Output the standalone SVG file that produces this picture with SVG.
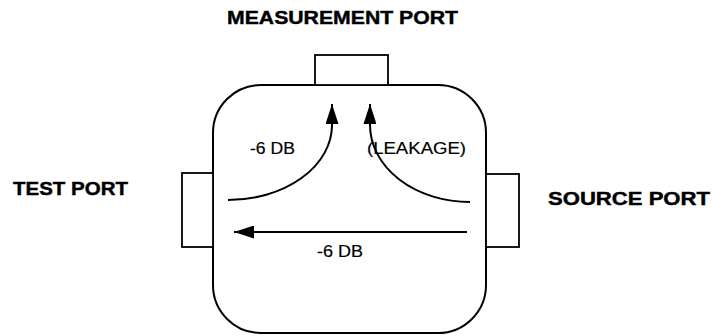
<svg xmlns="http://www.w3.org/2000/svg" width="712" height="336" viewBox="0 0 712 336">
<style>
.shape{fill:none;stroke:#000;stroke-width:2}
.port{fill:#fff;stroke:#000;stroke-width:1.8}
.conn{fill:none;stroke:#000;stroke-width:2}
.lbl{font-family:"Liberation Sans",Arial,sans-serif;font-weight:bold;font-size:17.5px;fill:#000;stroke:#000;stroke-width:0.4}
.txt{font-family:"Liberation Sans",Arial,sans-serif;font-size:17px;fill:#000;stroke:#000;stroke-width:0.2}
</style>
<defs>
<marker id="ah" markerUnits="userSpaceOnUse" markerWidth="21" markerHeight="13" refX="20" refY="6.5" orient="auto">
<path d="M0,0 L20,6.5 L0,13 z" fill="#000"/>
</marker>
</defs>
<rect width="712" height="336" fill="#fff"/>
<g id="body">
<rect class="shape" x="213" y="85" width="273" height="248" rx="48" ry="48"/>
</g>
<g id="measurement-port">
<rect class="port" x="315" y="55" width="73" height="30"/>
<text class="lbl" x="227" y="24" textLength="231" lengthAdjust="spacingAndGlyphs">MEASUREMENT PORT</text>
</g>
<g id="test-port">
<rect class="port" x="182" y="173" width="31" height="74"/>
<text class="lbl" x="13" y="195" textLength="115" lengthAdjust="spacingAndGlyphs">TEST PORT</text>
</g>
<g id="source-port">
<rect class="port" x="486" y="174" width="33" height="73"/>
<text class="lbl" x="548" y="205" textLength="162" lengthAdjust="spacingAndGlyphs">SOURCE PORT</text>
</g>
<g id="connectors">
<path class="conn" d="M228,200 A104,75 0 0 0 332,125 L332,104" marker-end="url(#ah)"/>
<path class="conn" d="M470,202 A100,77 0 0 1 370,125 L370,104" marker-end="url(#ah)"/>
<path class="conn" d="M467,232 L234,232" marker-end="url(#ah)"/>
<text class="txt" x="250" y="154" textLength="45" lengthAdjust="spacingAndGlyphs">-6 DB</text>
<text class="txt" x="367" y="154" textLength="99" lengthAdjust="spacingAndGlyphs">(LEAKAGE)</text>
<text class="txt" x="317" y="257" textLength="46" lengthAdjust="spacingAndGlyphs">-6 DB</text>
</g>
</svg>
